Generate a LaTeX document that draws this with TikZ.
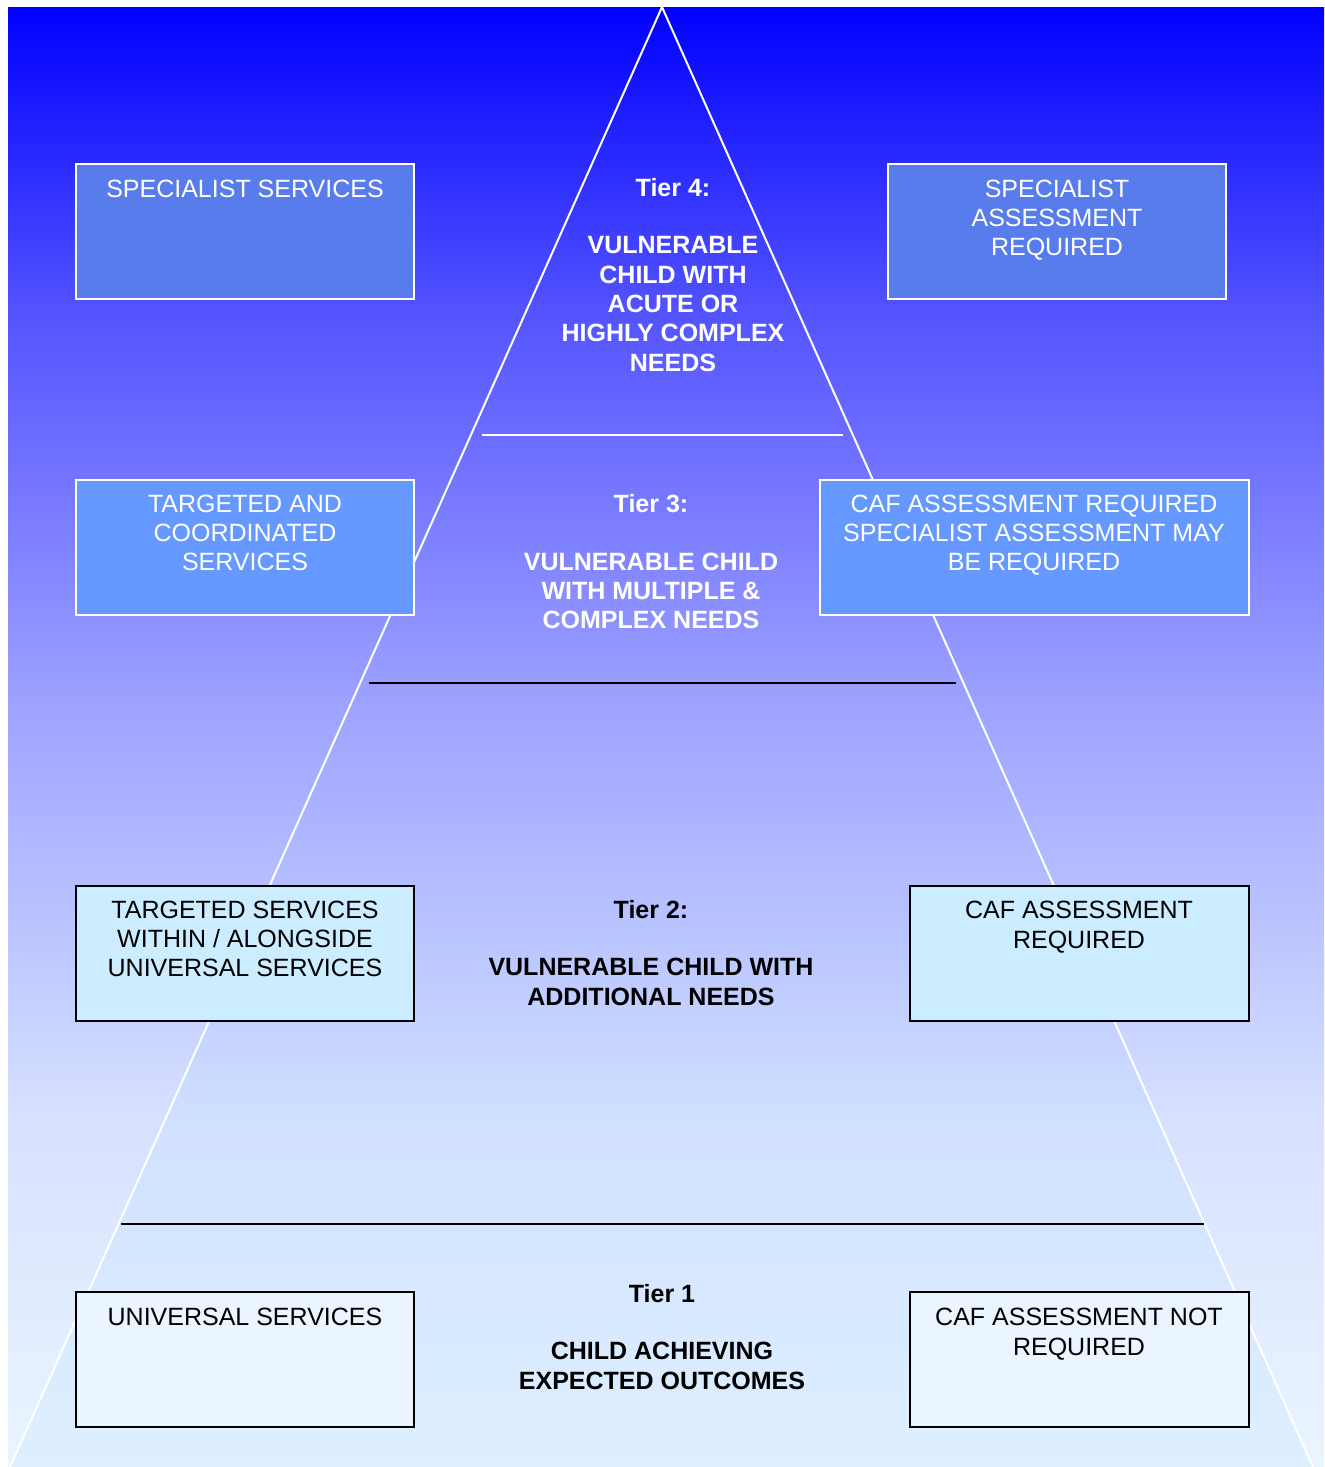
\documentclass[tikz,border=0pt]{standalone}
\usepackage{fontspec}
\setmainfont{Liberation Sans}
\definecolor{bgtop}{RGB}{0,0,255}
\definecolor{bgA}{RGB}{85,85,255}
\definecolor{bgB}{RGB}{160,165,255}
\definecolor{bgC}{RGB}{215,225,255}
\definecolor{bgbot}{RGB}{234,245,255}
\definecolor{trC}{RGB}{208,224,255}
\definecolor{trbot}{RGB}{222,240,255}
\definecolor{boxone}{RGB}{88,124,236}
\definecolor{boxtwo}{RGB}{102,153,255}
\definecolor{boxthree}{RGB}{204,236,255}
\definecolor{boxfour}{RGB}{234,245,255}
\pgfdeclareverticalshading{bgshade}{100bp}{color(0bp)=(bgbot); color(25bp)=(bgbot); color(36.9bp)=(bgC); color(50.6bp)=(bgB); color(64.3bp)=(bgA); color(75bp)=(bgtop); color(100bp)=(bgtop)}
\pgfdeclareverticalshading{trishade}{100bp}{color(0bp)=(trbot); color(25bp)=(trbot); color(36.9bp)=(trC); color(50.6bp)=(bgB); color(64.3bp)=(bgA); color(75bp)=(bgtop); color(100bp)=(bgtop)}
\begin{document}
\begin{tikzpicture}[x=1pt,y=-1pt,
  txt/.style={font=\fontsize{25}{29.3}\selectfont, align=center, inner sep=0pt},
  btxt/.style={txt, font=\fontsize{25}{29.3}\selectfont\bfseries},
  boxbase/.style={draw, line width=2pt, minimum width=338pt, minimum height=135pt, inner sep=0pt, outer sep=0pt, anchor=north west},
  bluebox/.style={boxbase, draw=white, fill=boxone},
  midbox/.style={boxbase, draw=white, fill=boxtwo},
  lightbox/.style={boxbase, draw=black, fill=boxthree},
  palebox/.style={boxbase, draw=black, fill=boxfour},
  triline/.style={draw=white, line width=2pt},
  tierline/.style={line width=2pt}]
\useasboundingbox (0,0) rectangle (1325,1467);
\shade[shading=bgshade] (8,7) rectangle (1324,1467);
% pyramid
\coordinate (apex) at (662,7);
\coordinate (bl) at (10,1467);
\coordinate (br) at (1313,1467);
\shade[shading=trishade] (apex) -- (br) -- (bl) -- cycle;
\draw[triline, line join=miter] (bl) -- (apex) -- (br);
% tier separators
\coordinate (s4l) at (482,435); \coordinate (s4r) at (843,435);
\coordinate (s3l) at (369,683); \coordinate (s3r) at (956,683);
\coordinate (s2l) at (121,1224); \coordinate (s2r) at (1204,1224);
\draw[tierline, draw=white] (s4l) -- (s4r);
\draw[tierline, draw=black] (s3l) -- (s3r);
\draw[tierline, draw=black] (s2l) -- (s2r);
% boxes
\node[bluebox] (b1) at (76,164) {};
\node[bluebox] (b2) at (888,164) {};
\node[midbox] (b3) at (76,480) {};
\node[midbox, minimum width=429pt] (b4) at (820,480) {};
\node[lightbox] (b5) at (76,886) {};
\node[lightbox, minimum width=339pt] (b6) at (910,886) {};
\node[palebox] (b7) at (76,1292) {};
\node[palebox, minimum width=339pt] (b8) at (910,1292) {};
% box texts
\node[txt, text=white] (t1) at (245,189) {SPECIALIST SERVICES};
\node[txt, text=white] (t2) at (1057,220) {SPECIALIST\\ASSESSMENT\\REQUIRED};
\node[txt, text=white] (t3) at (245,533) {TARGETED AND\\COORDINATED\\SERVICES};
\node[txt, text=white] (t4) at (1034,535) {CAF ASSESSMENT REQUIRED\\SPECIALIST ASSESSMENT MAY\\BE REQUIRED};
\node[txt] (t5) at (245,939) {TARGETED SERVICES\\WITHIN / ALONGSIDE\\UNIVERSAL SERVICES};
\node[txt] (t6) at (1079,927) {CAF ASSESSMENT\\REQUIRED};
\node[txt] (t7) at (245,1317) {UNIVERSAL SERVICES};
\node[txt] (t8) at (1079,1334) {CAF ASSESSMENT NOT\\REQUIRED};
% tier texts
\node[btxt, text=white] (tier4) at (673,275) {Tier 4:\\[28pt]VULNERABLE\\CHILD WITH\\ACUTE OR\\HIGHLY COMPLEX\\NEEDS};
\node[btxt, text=white] (tier3) at (651,562) {Tier 3:\\[28pt]VULNERABLE CHILD\\WITH MULTIPLE \&\\COMPLEX NEEDS};
\node[btxt] (tier2) at (651,953) {Tier 2:\\[28pt]VULNERABLE CHILD WITH\\ADDITIONAL NEEDS};
\node[btxt] (tier1) at (662,1337) {Tier 1\\[28pt]CHILD ACHIEVING\\EXPECTED OUTCOMES};
\end{tikzpicture}
\end{document}
